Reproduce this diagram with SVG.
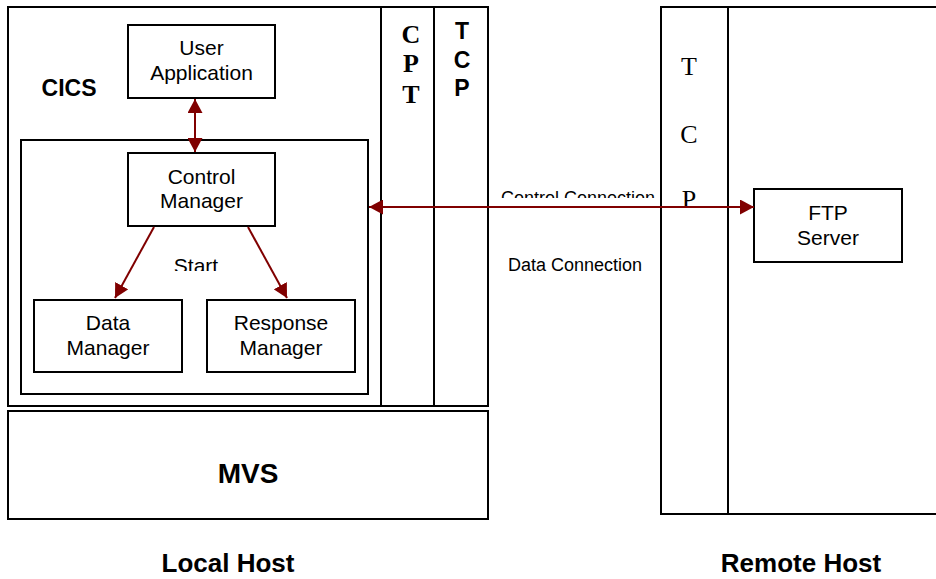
<svg xmlns="http://www.w3.org/2000/svg" width="936" height="579" viewBox="0 0 936 579">
<style>
.box{fill:none;stroke:#000;stroke-width:2}
.nb{fill:#fff;stroke:#000;stroke-width:2}
.t{font-family:"Liberation Sans",Arial,sans-serif;font-size:21px;fill:#000;text-anchor:middle}
.b{font-family:"Liberation Sans",Arial,sans-serif;font-weight:bold;fill:#000;text-anchor:middle}
.s{font-family:"Liberation Serif","Times New Roman",serif;fill:#000;text-anchor:middle}
.lbl{font-family:"Liberation Sans",Arial,sans-serif;font-size:18px;fill:#000;text-anchor:middle}
.c{stroke:#800000;stroke-width:2;fill:none}
</style>
<defs>
<marker id="ah" viewBox="0 0 14 15" refX="14" refY="7.5" markerWidth="14" markerHeight="15" markerUnits="userSpaceOnUse" orient="auto-start-reverse">
<path d="M0,0 L14,7.5 L0,15 Z" fill="#800000"/>
</marker>
<clipPath id="clipCC"><rect x="480" y="180" width="200" height="18"/></clipPath>
<clipPath id="clipSt"><rect x="160" y="250" width="80" height="21"/></clipPath>
</defs>
<rect width="936" height="579" fill="#fff"/>
<g id="local-host">
<rect class="box" x="8" y="7" width="480" height="399"/>
<line class="box" x1="381" y1="7" x2="381" y2="406"/>
<line class="box" x1="434" y1="7" x2="434" y2="406"/>
<text class="b" x="69" y="96" font-size="23">CICS</text>
<text class="b" x="228" y="572" font-size="26">Local Host</text>
</g>
<g id="cpt">
<text class="s" x="411" y="43" font-size="26" font-weight="bold">C</text>
<text class="s" x="411" y="72" font-size="26" font-weight="bold">P</text>
<text class="s" x="411" y="103" font-size="26" font-weight="bold">T</text>
</g>
<g id="tcp-local">
<text class="b" x="462" y="39" font-size="23">T</text>
<text class="b" x="462" y="68" font-size="23">C</text>
<text class="b" x="462" y="96" font-size="23">P</text>
</g>
<g id="inner">
<rect class="box" x="21" y="140" width="347" height="254"/>
</g>
<g id="user-application">
<rect class="nb" x="128" y="25" width="147" height="73"/>
<text class="t" x="201.5" y="55">User</text>
<text class="t" x="201.5" y="80">Application</text>
</g>
<g id="control-manager">
<rect class="nb" x="128" y="153" width="147" height="73"/>
<text class="t" x="201.5" y="184">Control</text>
<text class="t" x="201.5" y="208">Manager</text>
</g>
<g id="data-manager">
<rect class="nb" x="34" y="300" width="148" height="72"/>
<text class="t" x="108" y="330">Data</text>
<text class="t" x="108" y="355">Manager</text>
</g>
<g id="response-manager">
<rect class="nb" x="207" y="300" width="148" height="72"/>
<text class="t" x="281" y="330">Response</text>
<text class="t" x="281" y="355">Manager</text>
</g>
<g id="mvs">
<rect class="box" x="8" y="411" width="480" height="108"/>
<text class="b" x="248" y="483" font-size="28">MVS</text>
</g>
<g id="remote-host">
<rect class="box" x="661" y="7" width="290" height="507"/>
<line class="box" x1="728" y1="7" x2="728" y2="514"/>
<text class="s" x="689" y="75" font-size="26">T</text>
<text class="s" x="689" y="143" font-size="26">C</text>
<text class="s" x="689" y="208" font-size="26">P</text>
<text class="b" x="801" y="572" font-size="26">Remote Host</text>
</g>
<g id="ftp-server">
<rect class="nb" x="754" y="189" width="148" height="73"/>
<text class="t" x="828" y="220">FTP</text>
<text class="t" x="828" y="245">Server</text>
</g>
<g id="labels">
<text class="lbl" x="578" y="204" clip-path="url(#clipCC)">Control Connection</text>
<text class="lbl" x="575" y="271">Data Connection</text>
<text class="t" x="196" y="273" clip-path="url(#clipSt)">Start</text>
</g>
<g id="connectors">
<line class="c" x1="195" y1="99" x2="195" y2="152" marker-start="url(#ah)" marker-end="url(#ah)"/>
<line class="c" x1="154" y1="227" x2="115" y2="298" marker-end="url(#ah)"/>
<line class="c" x1="248" y1="227" x2="287" y2="298" marker-end="url(#ah)"/>
<line class="c" x1="369" y1="207" x2="754" y2="207" marker-start="url(#ah)" marker-end="url(#ah)"/>
</g>
</svg>
